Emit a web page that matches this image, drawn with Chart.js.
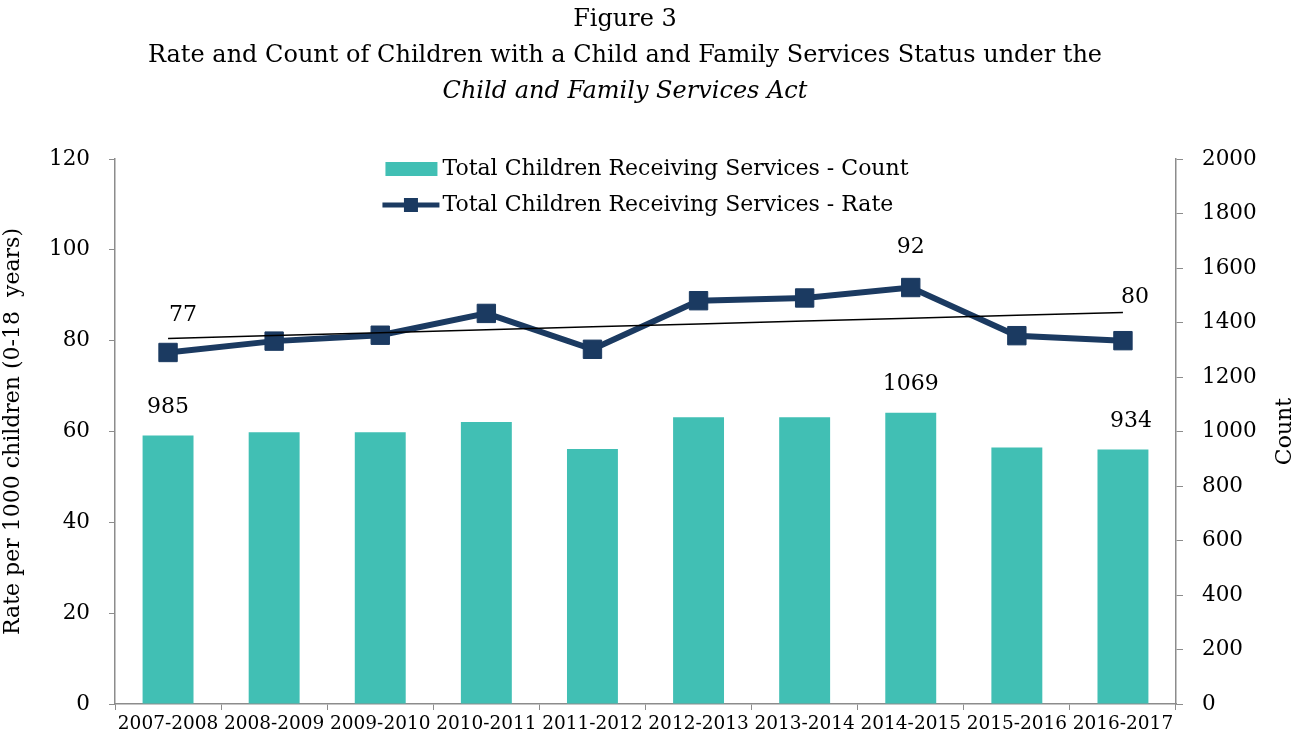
<!DOCTYPE html>
<html>
<head>
<meta charset="utf-8">
<script src="https://cdn.jsdelivr.net/npm/chart.js@4"></script>
<style>
  html, body { margin: 0; padding: 0; background: #fff; }
  #wrap { width: 1309px; height: 742px; }
</style>
</head>
<body>
<div id="wrap"><canvas id="childrenChart" width="1309" height="742"></canvas></div>
<script>
// Fiscal years on the x axis
const years = ['2007-2008', '2008-2009', '2009-2010', '2010-2011', '2011-2012',
               '2012-2013', '2013-2014', '2014-2015', '2015-2016', '2016-2017'];

// Children receiving services - count (right axis)
const counts = [985, 997, 997, 1035, 936, 1052, 1052, 1069, 941, 934];

// Children receiving services - rate per 1000 children (left axis)
const rates = [77.4, 79.9, 81.2, 86.0, 78.1, 88.8, 89.4, 91.7, 81.1, 80.0];

// Points that carry a value label
const labelledPoints = [0, 7, 9];

const titleLines = ['Figure 3', 'Rate and Count of Children with a Child and Family Services Status under the'];
const titleItalic = 'Child and Family Services Act';
const countLabel = 'Total Children Receiving Services - Count';
const rateLabel = 'Total Children Receiving Services - Rate';

const teal = '#41bfb4';
const navy = '#1b3a61';
const axisGrey = '#8c8c8c';
const serif = '"DejaVu Serif", "Liberation Serif", serif';

// Least squares trend of the rate series
const n = rates.length;
const meanX = (n - 1) / 2;
const meanY = rates.reduce((a, b) => a + b, 0) / n;
let sxy = 0, sxx = 0;
rates.forEach((r, i) => {
    sxy += (i - meanX) * (r - meanY);
    sxx += (i - meanX) * (i - meanX);
});
const slope = sxy / sxx;
const trend = rates.map((r, i) => meanY + slope * (i - meanX));

// Three line heading above the plot
const heading = {
    id: 'heading',
    afterDraw(chart) {
        const { ctx } = chart;
        const cx = 625;
        ctx.save();
        ctx.fillStyle = '#000';
        ctx.textAlign = 'center';
        ctx.textBaseline = 'middle';
        ctx.font = '24px ' + serif;
        ctx.fillText(titleLines[0], cx, 20);
        ctx.fillText(titleLines[1], cx, 56);
        ctx.font = 'italic 24px ' + serif;
        ctx.fillText(titleItalic, cx, 92);
        ctx.restore();
    }
};

// Legend drawn inside the top of the plot area
const insideLegend = {
    id: 'insideLegend',
    afterDraw(chart) {
        const { ctx, chartArea } = chart;
        ctx.save();
        ctx.font = '22px ' + serif;
        ctx.textBaseline = 'middle';
        const markerW = 57;
        const textW = Math.max(ctx.measureText(countLabel).width, ctx.measureText(rateLabel).width);
        const left = (chartArea.left + chartArea.right) / 2 - (markerW + 3 + textW) / 2;
        const y1 = chartArea.top + 10;
        const y2 = chartArea.top + 46;

        ctx.fillStyle = teal;
        ctx.fillRect(left + 3, y1 - 7, 52, 14);

        ctx.strokeStyle = navy;
        ctx.lineWidth = 5;
        ctx.beginPath();
        ctx.moveTo(left, y2);
        ctx.lineTo(left + markerW, y2);
        ctx.stroke();
        ctx.fillStyle = navy;
        ctx.fillRect(left + markerW / 2 - 7, y2 - 7, 14, 14);

        ctx.fillStyle = '#000';
        ctx.fillText(countLabel, left + markerW + 3, y1);
        ctx.fillText(rateLabel, left + markerW + 3, y2);
        ctx.restore();
    }
};

// Value labels above chosen bars and points, plus the right axis title
const valueLabels = {
    id: 'valueLabels',
    afterDatasetsDraw(chart) {
        const { ctx } = chart;
        const barMeta = chart.getDatasetMeta(0);
        const lineMeta = chart.getDatasetMeta(1);
        ctx.save();
        ctx.font = '22px ' + serif;
        ctx.fillStyle = '#000';
        ctx.textAlign = 'center';
        ctx.textBaseline = 'middle';
        labelledPoints.forEach(i => {
            const bar = barMeta.data[i];
            ctx.fillText(String(Math.round(counts[i])), bar.x + (i === 9 ? 8 : 0), bar.y - 28);
            const pt = lineMeta.data[i];
            ctx.fillText(String(Math.round(rates[i])), pt.x + (i === 0 ? 15 : i === 9 ? 12 : 0),
                         pt.y - (i === 0 ? 37 : i === 9 ? 43 : 40));
        });

        const right = chart.scales.yCount;
        ctx.translate(1285, (right.top + right.bottom) / 2);
        ctx.rotate(-Math.PI / 2);
        ctx.font = '22px ' + serif;
        ctx.fillText('Count', 0, 0);
        ctx.restore();
    }
};

const ctx = document.getElementById('childrenChart').getContext('2d');
new Chart(ctx, {
    type: 'bar',
    data: {
        labels: years,
        datasets: [{
            type: 'bar',
            label: countLabel,
            data: counts,
            yAxisID: 'yCount',
            backgroundColor: teal,
            borderWidth: 0,
            categoryPercentage: 1,
            barPercentage: 0.48,
            order: 3
        }, {
            type: 'line',
            label: rateLabel,
            data: rates,
            yAxisID: 'y',
            borderColor: navy,
            backgroundColor: navy,
            borderWidth: 6,
            pointStyle: 'rect',
            pointRadius: 13,
            pointBorderWidth: 1,
            tension: 0,
            order: 2
        }, {
            type: 'line',
            label: 'Trend',
            data: trend,
            yAxisID: 'y',
            borderColor: '#000',
            borderWidth: 1.5,
            pointRadius: 0,
            order: 1
        }]
    },
    options: {
        responsive: false,
        animation: false,
        layout: { padding: { left: 0, right: 0, top: 159, bottom: 0 } },
        plugins: {
            legend: { display: false },
            tooltip: { enabled: false },
            title: { display: false }
        },
        scales: {
            x: {
                grid: { drawOnChartArea: false, drawTicks: true, tickLength: 6, color: axisGrey, offset: true },
                border: { color: axisGrey, width: 1.5 },
                ticks: { color: '#000', font: { family: serif, size: 18.5 }, padding: 3, maxRotation: 0, autoSkip: false },
                afterFit(scale) { scale.height = 38; }
            },
            y: {
                position: 'left',
                min: 0,
                max: 120,
                ticks: { stepSize: 20, color: '#000', font: { family: serif, size: 21.5 }, padding: 19 },
                grid: { drawOnChartArea: false, drawTicks: true, tickLength: 6, color: axisGrey },
                border: { color: axisGrey, width: 1.5 },
                title: {
                    display: true,
                    text: 'Rate per 1000 children (0-18  years)',
                    color: '#000',
                    font: { family: serif, size: 22 },
                    padding: { top: 0, bottom: 4 }
                },
                afterFit(scale) { scale.width = 115; }
            },
            yCount: {
                position: 'right',
                min: 0,
                max: 2000,
                ticks: {
                    stepSize: 200, color: '#000', font: { family: serif, size: 21.5 }, padding: 19,
                    callback: value => String(value)
                },
                grid: { drawOnChartArea: false, drawTicks: true, tickLength: 7, color: axisGrey },
                border: { color: axisGrey, width: 1.5 },
                afterFit(scale) { scale.width = 133; }
            }
        }
    },
    plugins: [heading, insideLegend, valueLabels]
});
</script>
</body>
</html>
